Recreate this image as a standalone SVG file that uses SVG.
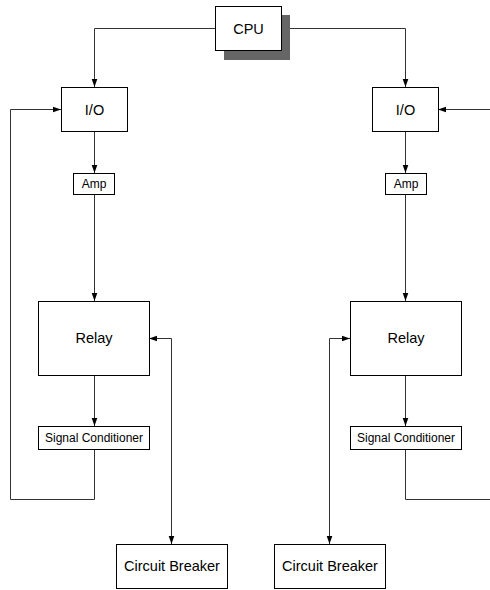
<svg xmlns="http://www.w3.org/2000/svg" width="490" height="590" viewBox="0 0 490 590">
<style>
.box{fill:#fff;stroke:#000;stroke-width:1}
.shadow{fill:#666;stroke:none}
.t{font-family:"Liberation Sans",Arial,sans-serif;fill:#000;text-anchor:middle;dominant-baseline:central}
.l{font-size:14.5px}
.s{font-size:12px}
.c{fill:none;stroke:#333;stroke-width:1}
</style>
<defs>
<marker id="ah" viewBox="0 0 10 10" refX="10" refY="5" markerWidth="8" markerHeight="8" markerUnits="userSpaceOnUse" orient="auto-start-reverse">
<path d="M0,1.5 L10,5 L0,8.5 Z" fill="#000"/>
</marker>
</defs>
<rect width="490" height="590" fill="#fff"/>
<g id="connectors">
<path class="c" d="M215,28.5 H94.5 V87" marker-end="url(#ah)"/>
<path class="c" d="M281,28.5 H405.5 V87" marker-end="url(#ah)"/>
<path class="c" d="M94.5,131 V173" marker-end="url(#ah)"/>
<path class="c" d="M405.5,131 V173" marker-end="url(#ah)"/>
<path class="c" d="M94.5,194 V301" marker-end="url(#ah)"/>
<path class="c" d="M405.5,194 V301" marker-end="url(#ah)"/>
<path class="c" d="M94.5,375 V426" marker-end="url(#ah)"/>
<path class="c" d="M405.5,375 V426" marker-end="url(#ah)"/>
<path class="c" d="M94.5,449 V499.5 H10.5 V109.5 H61" marker-end="url(#ah)"/>
<path class="c" d="M405.5,449 V499.5 H490"/>
<path class="c" d="M490,109.5 H438" marker-end="url(#ah)"/>
<path class="c" d="M149,338.5 H171.5 V544" marker-start="url(#ah)" marker-end="url(#ah)"/>
<path class="c" d="M350,338.5 H329.5 V544" marker-start="url(#ah)" marker-end="url(#ah)"/>
</g>
<g id="cpu">
<rect class="shadow" x="224" y="15" width="66" height="45"/>
<rect class="box" x="215.5" y="6.5" width="66" height="44"/>
<text class="t l" x="248.5" y="28.5">CPU</text>
</g>
<g id="io-left">
<rect class="box" x="61.5" y="87.5" width="66" height="44"/>
<text class="t l" x="94.5" y="109.5">I/O</text>
</g>
<g id="io-right">
<rect class="box" x="372.5" y="87.5" width="66" height="44"/>
<text class="t l" x="405.5" y="109.5">I/O</text>
</g>
<g id="amp-left">
<rect class="box" x="73.5" y="173.5" width="41" height="21"/>
<text class="t s" x="94" y="184">Amp</text>
</g>
<g id="amp-right">
<rect class="box" x="385.5" y="173.5" width="41" height="21"/>
<text class="t s" x="406" y="184">Amp</text>
</g>
<g id="relay-left">
<rect class="box" x="38.5" y="301.5" width="111" height="74"/>
<text class="t l" x="94" y="338">Relay</text>
</g>
<g id="relay-right">
<rect class="box" x="350.5" y="301.5" width="111" height="74"/>
<text class="t l" x="406" y="338">Relay</text>
</g>
<g id="sc-left">
<rect class="box" x="38.5" y="426.5" width="111" height="23"/>
<text class="t s" x="94" y="437.5">Signal Conditioner</text>
</g>
<g id="sc-right">
<rect class="box" x="350.5" y="426.5" width="111" height="23"/>
<text class="t s" x="406" y="437.5">Signal Conditioner</text>
</g>
<g id="cb-left">
<rect class="box" x="116.5" y="544.5" width="111" height="44"/>
<text class="t l" x="172" y="566">Circuit Breaker</text>
</g>
<g id="cb-right">
<rect class="box" x="274.5" y="544.5" width="111" height="44"/>
<text class="t l" x="330" y="566">Circuit Breaker</text>
</g>
</svg>
